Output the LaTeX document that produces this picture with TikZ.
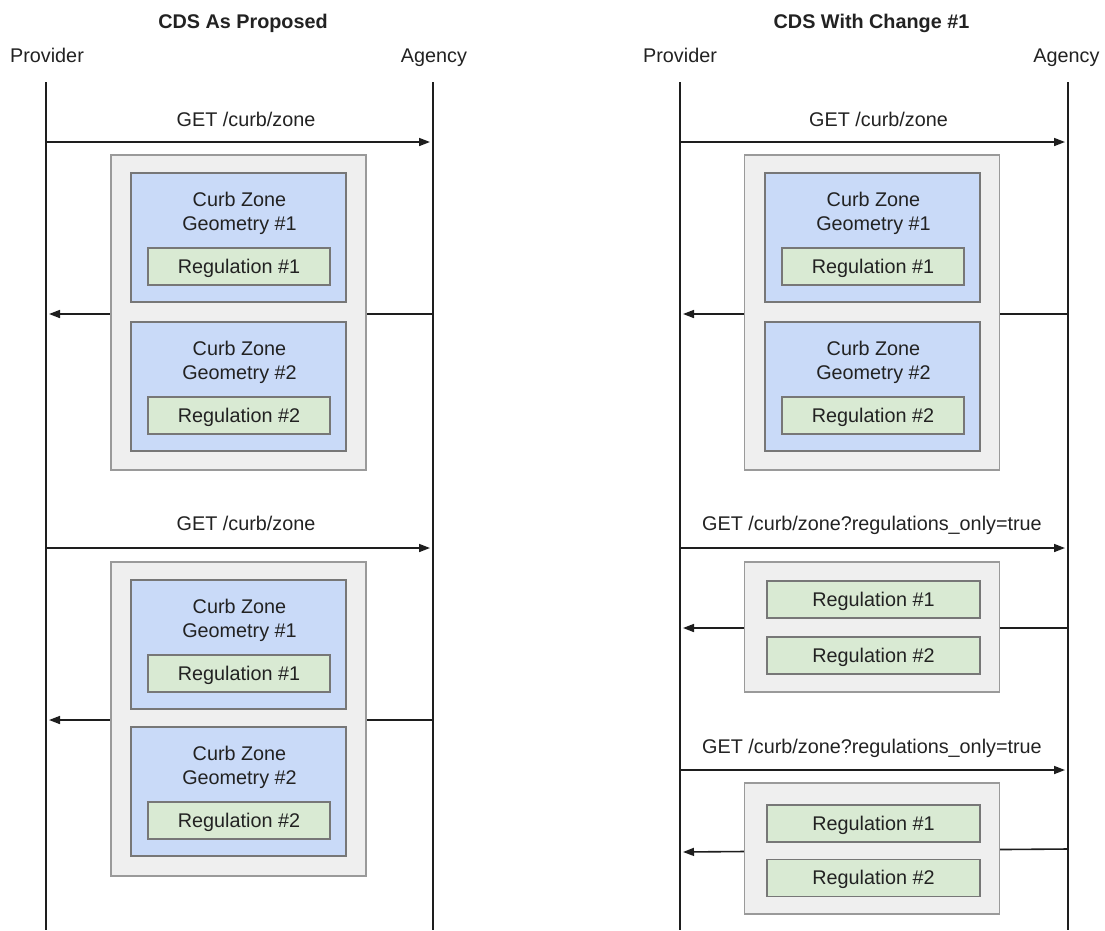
\documentclass[tikz,border=0pt]{standalone}
\usepackage{fontspec}
\setmainfont{Liberation Sans}
\usetikzlibrary{arrows.meta}
\definecolor{ink}{HTML}{222222}
\definecolor{lineink}{HTML}{1e1e1e}
\definecolor{groupfill}{HTML}{EFEFEF}
\definecolor{groupedge}{HTML}{9A9A9A}
\definecolor{zonefill}{HTML}{C9DAF8}
\definecolor{regfill}{HTML}{D9EAD3}
\definecolor{boxedge}{HTML}{777777}

% a blue curb-zone box with its caption and the regulation inside
% (the base anchor of the two-line caption sits on its second line)
\newcommand\CurbZone[4]{%
  \node[zone] (#1) at (#2,{#3+64.5}) {};
  \node[txt, anchor=base, align=center] (#1t) at ({#2+1},{#3+57.5}) {Curb Zone\\Geometry \##4};
  \node[reg] (#1r) at ({#2+0.5},{#3+93.5}) {Regulation \##4};
}

\begin{document}
\begin{tikzpicture}[x=1pt,y=-1pt,
  txt/.style={font=\fontsize{19.8}{24}\selectfont, text=ink, inner sep=0pt},
  lbl/.style={txt, anchor=base},
  title/.style={font=\fontsize{19.8}{24}\selectfont\bfseries, text=ink, inner sep=0pt, anchor=base},
  lifeline/.style={draw=lineink, line width=1.8pt},
  msg/.style={draw=lineink, line width=1.6pt, -{Triangle[length=11pt,width=8pt]}, shorten >=3pt},
  group/.style={draw=groupedge, fill=groupfill, line width=1.4pt, minimum width=255pt, inner sep=0pt},
  zone/.style={draw=boxedge, fill=zonefill, line width=1.3pt, minimum width=215pt, minimum height=129pt, inner sep=0pt},
  reg/.style={draw=boxedge, fill=regfill, line width=1.3pt, minimum width=182pt, minimum height=37pt, inner sep=0pt,
    text height=14.6pt, text depth=1pt, font=\fontsize{19.8}{24}\selectfont, text=ink},
  regwide/.style={reg, minimum width=213pt},
]
\useasboundingbox[fill=white] (0,0) rectangle (1105,930);

% ---------- titles and participants ----------
\node[title] (t1) at (243,28) {CDS As Proposed};
\node[title] (t2) at (871.5,28) {CDS With Change \#1};
\node[lbl] (prov1) at (47,62) {Provider};
\node[lbl] (agen1) at (434,62) {Agency};
\node[lbl] (prov2) at (680,62) {Provider};
\node[lbl] (agen2) at (1066.5,62) {Agency};

% ---------- lifelines ----------
\coordinate (P1) at (46,82);   \coordinate (P1e) at (46,930);
\coordinate (A1) at (433,82);  \coordinate (A1e) at (433,930);
\coordinate (P2) at (680,82);  \coordinate (P2e) at (680,930);
\coordinate (A2) at (1068,82); \coordinate (A2e) at (1068,930);
\draw[lifeline] (P1) -- (P1e);
\draw[lifeline] (A1) -- (A1e);
\draw[lifeline] (P2) -- (P2e);
\draw[lifeline] (A2) -- (A2e);

% ---------- message levels ----------
\coordinate (q1) at (0,142);
\coordinate (q2) at (0,548);
\coordinate (q3) at (0,770);
\coordinate (r1) at (0,314);
\coordinate (r2) at (0,720);
\coordinate (r3) at (0,628);
\coordinate (r4a) at (0,849);
\coordinate (r4b) at (0,852);

% ---------- left: CDS as proposed ----------
\draw[msg] (P1 |- q1) -- (A1 |- q1);
\node[lbl] (g1) at (246,126) {GET /curb/zone};
\draw[msg] (A1 |- r1) -- (P1 |- r1);
\node[group, minimum height=315pt] (grp1) at (238.5,312.5) {};
\CurbZone{z1}{238.5}{173}{1}
\CurbZone{z2}{238.5}{322}{2}

\draw[msg] (P1 |- q2) -- (A1 |- q2);
\node[lbl] (g2) at (246,530) {GET /curb/zone};
\draw[msg] (A1 |- r2) -- (P1 |- r2);
\node[group, minimum height=314pt] (grp2) at (238.5,719) {};
\CurbZone{z3}{238.5}{580}{1}
\CurbZone{z4}{238.5}{727}{2}

% ---------- right: CDS with change #1 ----------
\draw[msg] (P2 |- q1) -- (A2 |- q1);
\node[lbl] (g3) at (878.5,126) {GET /curb/zone};
\draw[msg] (A2 |- r1) -- (P2 |- r1);
\node[group, minimum height=315pt] (grp3) at (872,312.5) {};
\CurbZone{z5}{872.5}{173}{1}
\CurbZone{z6}{872.5}{322}{2}

\draw[msg] (P2 |- q2) -- (A2 |- q2);
\node[lbl] (g4) at (872,530) {GET /curb/zone?regulations\_only=true};
\draw[msg] (A2 |- r3) -- (P2 |- r3);
\node[group, minimum height=130pt] (grp4) at (872,627) {};
\node[regwide] (rg1) at (873.5,599.5) {Regulation \#1};
\node[regwide] (rg2) at (873.5,655.5) {Regulation \#2};

\draw[msg] (P2 |- q3) -- (A2 |- q3);
\node[lbl] (g5) at (872,753) {GET /curb/zone?regulations\_only=true};
\draw[msg] (A2 |- r4a) -- (P2 |- r4b);
\node[group, minimum height=131pt] (grp5) at (872,848.5) {};
\node[regwide] (rg3) at (873.5,823.5) {Regulation \#1};
\node[regwide] (rg4) at (873.5,878) {Regulation \#2};
\end{tikzpicture}
\end{document}
